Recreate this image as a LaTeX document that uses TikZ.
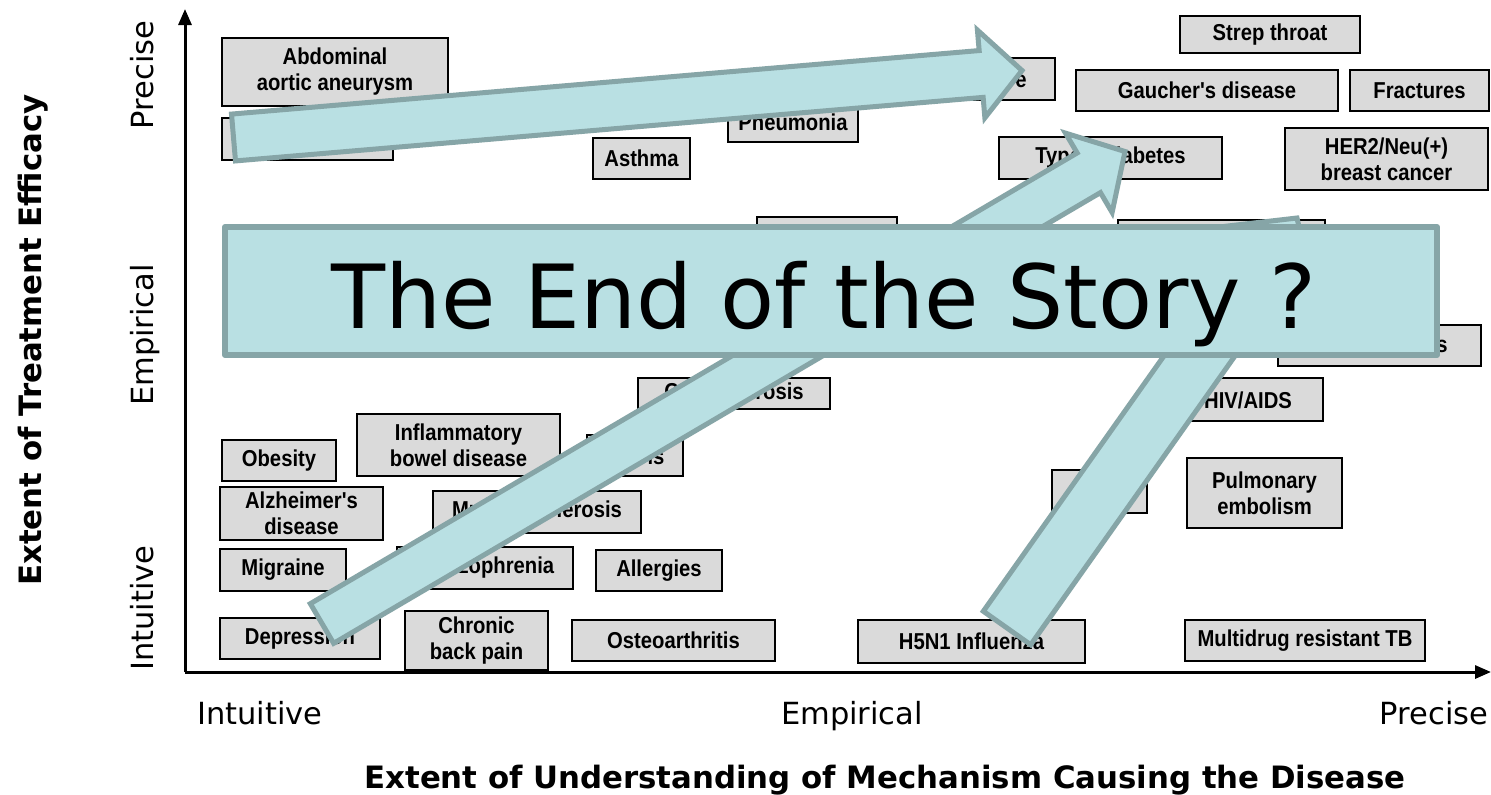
\documentclass[tikz,border=0pt]{standalone}
\usepackage{fontspec}
\setmainfont{DejaVu Sans}
\newfontfamily\boxfont[FakeStretch=0.88]{Liberation Sans}
\usetikzlibrary{calc,arrows.meta}

\definecolor{tealfill}{RGB}{185,224,227}
\definecolor{tealedge}{RGB}{134,165,167}
\definecolor{boxgray}{RGB}{218,218,218}

\tikzset{
  dz/.style={draw=black, line width=2.5pt, fill=boxgray, inner sep=0pt,
    align=center, font=\boxfont\bfseries\fontsize{23}{26}\selectfont},
  frag/.style={inner sep=0pt, font=\boxfont\bfseries\fontsize{23}{26}\selectfont},
  axisline/.style={line width=3pt, -{Triangle[length=16pt,width=13pt]}},
  tick label/.style={inner sep=0pt, anchor=base, font=\fontsize{30.5}{36}\selectfont},
  axis title/.style={inner sep=0pt, anchor=base, font=\bfseries\fontsize{30.8}{36}\selectfont},
  bigarrow/.style={fill=tealfill, draw=tealedge, line width=5pt, line join=miter},
  banner/.style={fill=tealfill, draw=tealedge, line width=6pt, line join=round,
    inner sep=0pt, minimum width=1212pt, minimum height=128pt},
  bannertext/.style={inner sep=0pt, anchor=base, font=\fontsize{88.5}{100}\selectfont}
}

% disease box: name, x1, y1, x2, y2, text
\newcommand\dbox[6]{%
  \node[dz, minimum width={(#4-#2)*1pt}, minimum height={(#5-#3)*1pt}]
    (#1) at ({(#2+#4)/2},{(#3+#5)/2}) {#6};}

% block arrow: tail, tip, half shaft width, half head width, head length
\newcommand\blockarrow[5]{%
  \coordinate (#1-base) at ($(#2)!#5pt!(#1)$);
  \draw[bigarrow]
    ($(#1)!#3pt!90:(#2)$) -- ($(#1-base)!#3pt!90:(#2)$) --
    ($(#1-base)!#4pt!90:(#2)$) -- (#2) --
    ($(#1-base)!#4pt!-90:(#2)$) -- ($(#1-base)!#3pt!-90:(#2)$) --
    ($(#1)!#3pt!-90:(#2)$) -- cycle;}

\begin{document}
\begin{tikzpicture}[x=1pt, y=-1pt]
  \path[use as bounding box, fill=white] (0,0) rectangle (1491,795);

  % axes
  \coordinate (O) at (185,672);
  \coordinate (ytop) at (185,9);
  \coordinate (xend) at (1491,672);
  \draw[axisline] (O) -- (ytop);
  \draw[axisline] (O) -- (xend);

  % axis scale labels
  \node[tick label, rotate=90] (yprecise) at (153,75) {Precise};
  \node[tick label, rotate=90] (yempirical) at (153,335) {Empirical};
  \node[tick label, rotate=90] (yintuitive) at (153,608) {Intuitive};
  \node[tick label] (xintuitive) at (260,724) {Intuitive};
  \node[tick label] (xempirical) at (852,724) {Empirical};
  \node[tick label] (xprecise) at (1434,724) {Precise};
  \node[axis title, rotate=90] (ytitle) at (41,340) {Extent of Treatment Efficacy};
  \node[axis title] (xtitle) at (885,788) {Extent of Understanding of Mechanism Causing the Disease};

  % disease boxes
  \dbox{aaa}{222}{38}{448}{106}{Abdominal\\aortic aneurysm}
  \dbox{hidA}{222}{118}{393}{160}{}
  \dbox{pneu}{728}{103}{858}{142}{Pneumonia}
  \dbox{asthma}{593}{138}{690}{179}{Asthma}
  \dbox{hidE}{960}{58}{1055}{100}{}
  \node[frag] (hidEtxt) at (1021,81) {e};
  \dbox{strep}{1180}{16}{1360}{53}{Strep throat}
  \dbox{gaucher}{1076}{70}{1338}{111}{Gaucher's disease}
  \dbox{fract}{1350}{70}{1489}{111}{Fractures}
  \dbox{diab}{999}{137}{1222}{179}{Type 1 diabetes}
  \dbox{her2}{1285}{128}{1488}{190}{HER2/Neu(+)\\breast cancer}
  \dbox{hidB}{757}{217}{897}{270}{}
  \dbox{hidC}{1118}{220}{1325}{270}{}
  \dbox{hidS}{1278}{325}{1481}{366}{}
  \node[frag] (hidStxt) at (1442,346) {s};
  \dbox{cf}{638}{378}{830}{409}{Cystic fibrosis}
  \dbox{hiv}{1192}{378}{1323}{421}{}
  \node[frag] (hivtxt) at (1248,400) {HIV/AIDS};
  \dbox{ibd}{357}{414}{560}{476}{Inflammatory\\bowel disease}
  \dbox{hidI}{587}{435}{683}{476}{}
  \node[frag] (hidItxt) at (656,456) {is};
  \dbox{obesity}{222}{440}{336}{481}{Obesity}
  \dbox{alz}{220}{487}{383}{540}{Alzheimer's\\disease}
  \dbox{ms}{433}{491}{641}{533}{Multiple sclerosis}
  \dbox{pe}{1187}{458}{1342}{528}{Pulmonary\\embolism}
  \dbox{hidP}{1052}{470}{1147}{513}{}
  \dbox{migraine}{220}{549}{346}{591}{Migraine}
  \dbox{schizo}{397}{547}{573}{589}{Schizophrenia}
  \dbox{allerg}{596}{550}{722}{591}{Allergies}
  \dbox{depr}{220}{618}{380}{659}{Depression}
  \dbox{cbp}{405}{611}{548}{670}{Chronic\\back pain}
  \dbox{oa}{572}{620}{775}{661}{Osteoarthritis}
  \dbox{flu}{858}{620}{1085}{663}{H5N1 Influenza}
  \dbox{tb}{1185}{620}{1425}{661}{Multidrug resistant TB}

  % big arrows
  \coordinate (a1t) at (233.5,137.5);
  \coordinate (a1h) at (1022,70.5);
  \coordinate (a2t) at (322,623.5);
  \coordinate (a2h) at (1125,151.5);
  \coordinate (a3t) at (1007,628);
  \coordinate (a3h) at (1297,218);
  \blockarrow{a3t}{a3h}{29}{58}{52}
  \blockarrow{a2t}{a2h}{23}{46}{42}
  \blockarrow{a1t}{a1h}{23.5}{44}{41}

  % banner
  \node[banner] (banner) at (831,291) {};
  \node[bannertext] (story) at (824,328) {The End of the Story ?};
\end{tikzpicture}
\end{document}
